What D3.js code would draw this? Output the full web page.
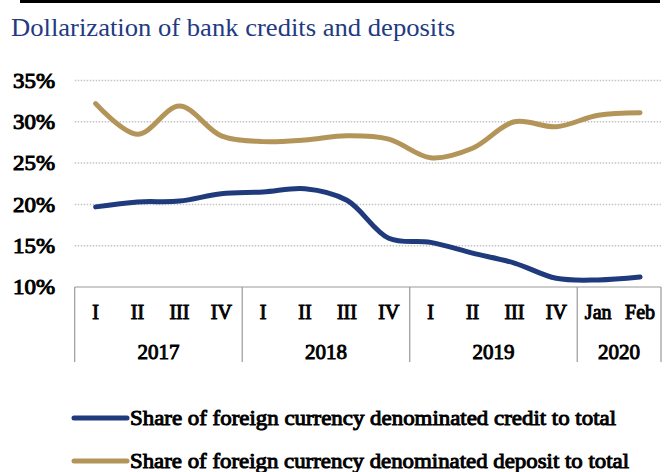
<!DOCTYPE html>
<html>
<head>
<meta charset="utf-8">
<script src="https://cdn.jsdelivr.net/npm/d3@7"></script>
<style>
  html, body { margin: 0; padding: 0; background: #fff; }
  svg { display: block; }
  svg text { font-family: "Liberation Serif", "Times New Roman", serif; }
  /* heavy labels: regular serif face thickened with an outline */
  svg text.heavy { font-weight: normal; stroke: #000; stroke-width: 0.95px; paint-order: stroke; fill: #000; }
</style>
</head>
<body>
<svg id="chart" width="667" height="472"></svg>
<script>
// Period labels (quarters, then months for 2020)
const periods = ["I", "II", "III", "IV", "I", "II", "III", "IV", "I", "II", "III", "IV", "Jan", "Feb"];
const years = ["2017", "2018", "2019", "2020"];
const yearSpans = [4, 4, 4, 2];

// Shares in percent
const creditShare = [19.7, 20.3, 20.4, 21.3, 21.5, 21.9, 20.5, 15.9, 15.4, 14.1, 12.9, 11.05, 10.85, 11.2];
const depositShare = [32.2, 28.5, 31.9, 28.3, 27.6, 27.8, 28.3, 27.9, 25.65, 26.8, 30.0, 29.4, 30.8, 31.1];

const yTicks = [10, 15, 20, 25, 30, 35];

const seriesNames = [
  "Share of foreign currency denominated credit to total",
  "Share of foreign currency denominated deposit to total"
];
const colors = ["#1f3a7d", "#b3955a"];

const svg = d3.select("#chart");

const plotLeft = 74.7, plotRight = 661, plotTop = 80.5, plotBottom = 287;

const x = d3.scaleBand().domain(d3.range(periods.length)).range([plotLeft, plotRight]);
const y = d3.scaleLinear().domain([10, 35]).range([plotBottom, plotTop]);

// Rule across the top
svg.append("rect").attr("x", 20).attr("y", 0).attr("width", 640).attr("height", 3).attr("fill", "#000");

// Title
svg.append("text")
  .attr("x", 11).attr("y", 36)
  .style("font-size", "25px")
  .attr("fill", "#1f3b82")
  .attr("textLength", 444).attr("lengthAdjust", "spacingAndGlyphs")
  .text("Dollarization of bank credits and deposits");

// Dotted gridlines
svg.append("g").selectAll("line")
  .data(yTicks.filter(d => d > 10))
  .join("line")
  .attr("x1", plotLeft).attr("x2", plotRight)
  .attr("y1", d => y(d)).attr("y2", d => y(d))
  .attr("stroke", "#c4c4c4").attr("stroke-width", 1.5)
  .attr("stroke-dasharray", "1.5,1.5");

// Y axis labels
const yAxis = d3.axisLeft(y).tickValues(yTicks).tickFormat(d => d + "%").tickSize(0).tickPadding(0);
const yg = svg.append("g").attr("transform", "translate(55,0)").call(yAxis);
yg.attr("font-family", null).attr("font-size", null);
yg.select(".domain").remove();
yg.selectAll("text")
  .attr("class", "heavy")
  .style("font-size", "20px")
  .attr("dy", "0.34em")
  .attr("textLength", 42).attr("lengthAdjust", "spacingAndGlyphs");

// Category box: top line and year separators
const axisG = svg.append("g");
axisG.append("line")
  .attr("x1", plotLeft).attr("x2", plotRight).attr("y1", plotBottom).attr("y2", plotBottom)
  .attr("stroke", "#999").attr("stroke-width", 1.2);

const boundaries = [0];
yearSpans.forEach(s => boundaries.push(boundaries[boundaries.length - 1] + s));
const edgeX = i => i < periods.length ? x(i) : plotRight;

axisG.selectAll("line.sep")
  .data(boundaries)
  .join("line").attr("class", "sep")
  .attr("x1", edgeX).attr("x2", edgeX)
  .attr("y1", plotBottom).attr("y2", 362)
  .attr("stroke", "#999").attr("stroke-width", 1.2);

// Period labels
axisG.selectAll("text.period")
  .data(periods)
  .join("text").attr("class", "period heavy")
  .attr("x", (d, i) => x(i) + x.bandwidth() / 2)
  .attr("y", 319)
  .attr("text-anchor", "middle")
  .style("font-size", "20px")
  .text(d => d);

// Year labels
axisG.selectAll("text.year")
  .data(years)
  .join("text").attr("class", "year heavy")
  .attr("x", (d, i) => (edgeX(boundaries[i]) + edgeX(boundaries[i + 1])) / 2)
  .attr("y", 358.5)
  .attr("text-anchor", "middle")
  .style("font-size", "21px")
  .attr("textLength", 42).attr("lengthAdjust", "spacingAndGlyphs")
  .text(d => d);

// Smoothed series lines
const line = d3.line()
  .x((d, i) => x(i) + x.bandwidth() / 2)
  .y(d => y(d))
  .curve(d3.curveCatmullRom.alpha(0.5));

[creditShare, depositShare].forEach((vals, k) => {
  svg.append("path")
    .datum(vals)
    .attr("d", line)
    .attr("fill", "none")
    .attr("stroke", colors[k])
    .attr("stroke-width", 5)
    .attr("stroke-linecap", "round")
    .attr("stroke-linejoin", "round");
});

// Legend
const legendRows = [418, 461];
const legendWidths = [486, 499];
seriesNames.forEach((name, k) => {
  const g = svg.append("g").attr("transform", `translate(0,${legendRows[k]})`);
  g.append("line")
    .attr("x1", 74).attr("x2", 127).attr("y1", 0).attr("y2", 0)
    .attr("stroke", colors[k]).attr("stroke-width", 5).attr("stroke-linecap", "round");
  g.append("text")
    .attr("class", "heavy")
    .attr("x", 130).attr("y", 7)
    .style("font-size", "21px")
    .attr("textLength", legendWidths[k]).attr("lengthAdjust", "spacingAndGlyphs")
    .text(name);
});
</script>
</body>
</html>
